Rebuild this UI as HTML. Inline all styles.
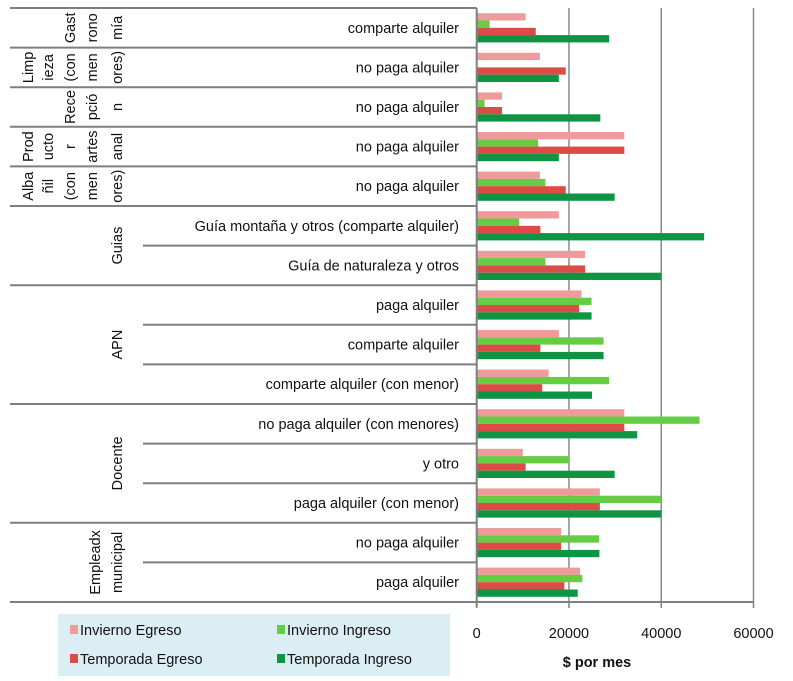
<!DOCTYPE html>
<html><head><meta charset="utf-8">
<style>
html,body{margin:0;padding:0;background:#fff;}
svg{display:block;font-family:"Liberation Sans",sans-serif;}
</style></head>
<body>
<svg id="chart" width="793" height="681" viewBox="0 0 793 681">
<g id="grid"></g>
<g id="bars"></g>
<g id="labels"></g>
<g id="axis"></g>
<g id="legend"></g>
</svg>
<script>
const categories = [
 "comparte alquiler","no paga alquiler","no paga alquiler","no paga alquiler","no paga alquiler",
 "Guía montaña y otros (comparte alquiler)","Guía de naturaleza y otros",
 "paga alquiler","comparte alquiler","comparte alquiler (con menor)",
 "no paga alquiler (con menores)","y otro","paga alquiler (con menor)",
 "no paga alquiler","paga alquiler"];
const seriesNames = ["Invierno Egreso","Invierno Ingreso","Temporada Egreso","Temporada Ingreso"];
const inviernoEgreso   = [10600,13700,5500,32000,13700,17800,23500,22700,17800,15600,32000,10000,26700,18300,22400];
const inviernoIngreso  = [2800,0,1700,13300,14900,9200,14900,24900,27500,28700,48300,20000,40000,26500,22900];
const temporadaEgreso  = [12800,19300,5500,32000,19300,13800,23500,22200,13800,14200,32000,10600,26700,18300,19000];
const temporadaIngreso = [28700,17800,26800,17800,29900,49300,40000,24900,27500,25000,34800,29900,40000,26600,21900];
const xTicks = [0,20000,40000,60000];
const colors = ["#f09b9b","#66cc44","#dc4c46","#0f9443"];

const NS="http://www.w3.org/2000/svg";
function mk(tag,attrs,parent){const e=document.createElementNS(NS,tag);for(const k in attrs)e.setAttribute(k,attrs[k]);parent.appendChild(e);return e;}
const x0=476.7, xmax=753.5, vmax=60000;
const xs=v=>x0+(v/vmax)*(xmax-x0);
const plotTop=8, plotBottom=602;
const band=(plotBottom-plotTop)/categories.length;
const yBand=i=>plotTop+i*band;

const grid=document.getElementById('grid');
xTicks.slice(1).forEach(t=>{
  const l=mk('line',{x1:xs(t),x2:xs(t),y1:plotTop,y2:plotBottom,stroke:'#8a8a8a','stroke-width':1.5},grid);
  
  
});

const bars=document.getElementById('bars');
const all=[inviernoEgreso,inviernoIngreso,temporadaEgreso,temporadaIngreso];
const bh=7.3;
categories.forEach((c,i)=>{
  all.forEach((s,j)=>{
    const v=s[i];
    const r=mk('rect',{x:x0,y:yBand(i)+5.2+j*bh,width:Math.max(0,xs(v)-x0),height:bh,fill:colors[j]},bars);
    
    
  });
});

const lab=document.getElementById('labels');
categories.forEach((c,i)=>{
  const t=mk('text',{x:459,y:yBand(i)+band/2+5,'text-anchor':'end','font-size':14.5,fill:'#111'},lab);
  t.textContent=c;
  
  
});
const groupLines=[0,1,2,3,4,5,7,10,13,15];
const subLines=[6,8,9,11,12,14];
groupLines.forEach(i=>{
  const l=mk('line',{x1:10,x2:x0,y1:yBand(i),y2:yBand(i),stroke:'#7f7f7f','stroke-width':2},lab);
  
  
});
subLines.forEach(i=>{
  const l=mk('line',{x1:143,x2:x0,y1:yBand(i),y2:yBand(i),stroke:'#7f7f7f','stroke-width':2},lab);
  
  
});
const groupCols=[
  {row:0,span:1,cols:[[70,"Gast"],[92,"rono"],[117,"mía"]]},
  {row:1,span:1,cols:[[28,"Limp"],[48,"ieza"],[70,"(con"],[92,"men"],[117,"ores)"]]},
  {row:2,span:1,cols:[[70,"Rece"],[92,"pció"],[117,"n"]]},
  {row:3,span:1,cols:[[28,"Prod"],[48,"ucto"],[70,"r"],[92,"artes"],[117,"anal"]]},
  {row:4,span:1,cols:[[28,"Alba"],[48,"ñil"],[70,"(con"],[92,"men"],[117,"ores)"]]},
  {row:5,span:2,cols:[[117,"Guias"]]},
  {row:7,span:3,cols:[[117,"APN"]]},
  {row:10,span:3,cols:[[117,"Docente"]]},
  {row:13,span:2,cols:[[95,"Empleadx"],[117,"municipal"]]}
];
groupCols.forEach(g=>{
  const cy=yBand(g.row)+g.span*band/2;
  g.cols.forEach(([cx,txt])=>{
    const t=mk('text',{x:0,y:0,'text-anchor':'middle','font-size':14.5,fill:'#111',transform:`translate(${cx+5},${cy}) rotate(-90)`},lab);
    t.textContent=txt;
    
    
  });
});

const ax=document.getElementById('axis');
let l=mk('line',{x1:x0,x2:x0,y1:plotTop,y2:plotBottom+5,stroke:'#7f7f7f','stroke-width':2},ax);


l=mk('line',{x1:10,x2:xmax,y1:plotBottom,y2:plotBottom,stroke:'#7f7f7f','stroke-width':2},ax);


xTicks.forEach(t=>{
  const tk=mk('line',{x1:xs(t),x2:xs(t),y1:plotBottom,y2:plotBottom+6,stroke:'#7f7f7f','stroke-width':1.5},ax);
  
  
  const tx=mk('text',{x:xs(t),y:638,'text-anchor':'middle','font-size':14.5,fill:'#111'},ax);
  tx.textContent=String(t);
  
  
});
const title=mk('text',{x:597,y:667,'text-anchor':'middle','font-size':14.5,'font-weight':'bold',fill:'#111'},ax);
title.textContent="$ por mes";



const lg=document.getElementById('legend');
const box=mk('rect',{x:58,y:614,width:392,height:62,fill:'#dbeef4'},lg);


const lpos=[[70,631],[277,631],[70,660],[277,660]];
seriesNames.forEach((n,j)=>{
  const g=mk('g',{},lg);
  
  
  mk('rect',{x:lpos[j][0],y:lpos[j][1]-6,width:8,height:9,fill:colors[j]},g);
  const t=mk('text',{x:lpos[j][0]+10,y:lpos[j][1]+4,'font-size':14.5,fill:'#111'},g);
  t.textContent=n;
});
</script>
</body></html>
